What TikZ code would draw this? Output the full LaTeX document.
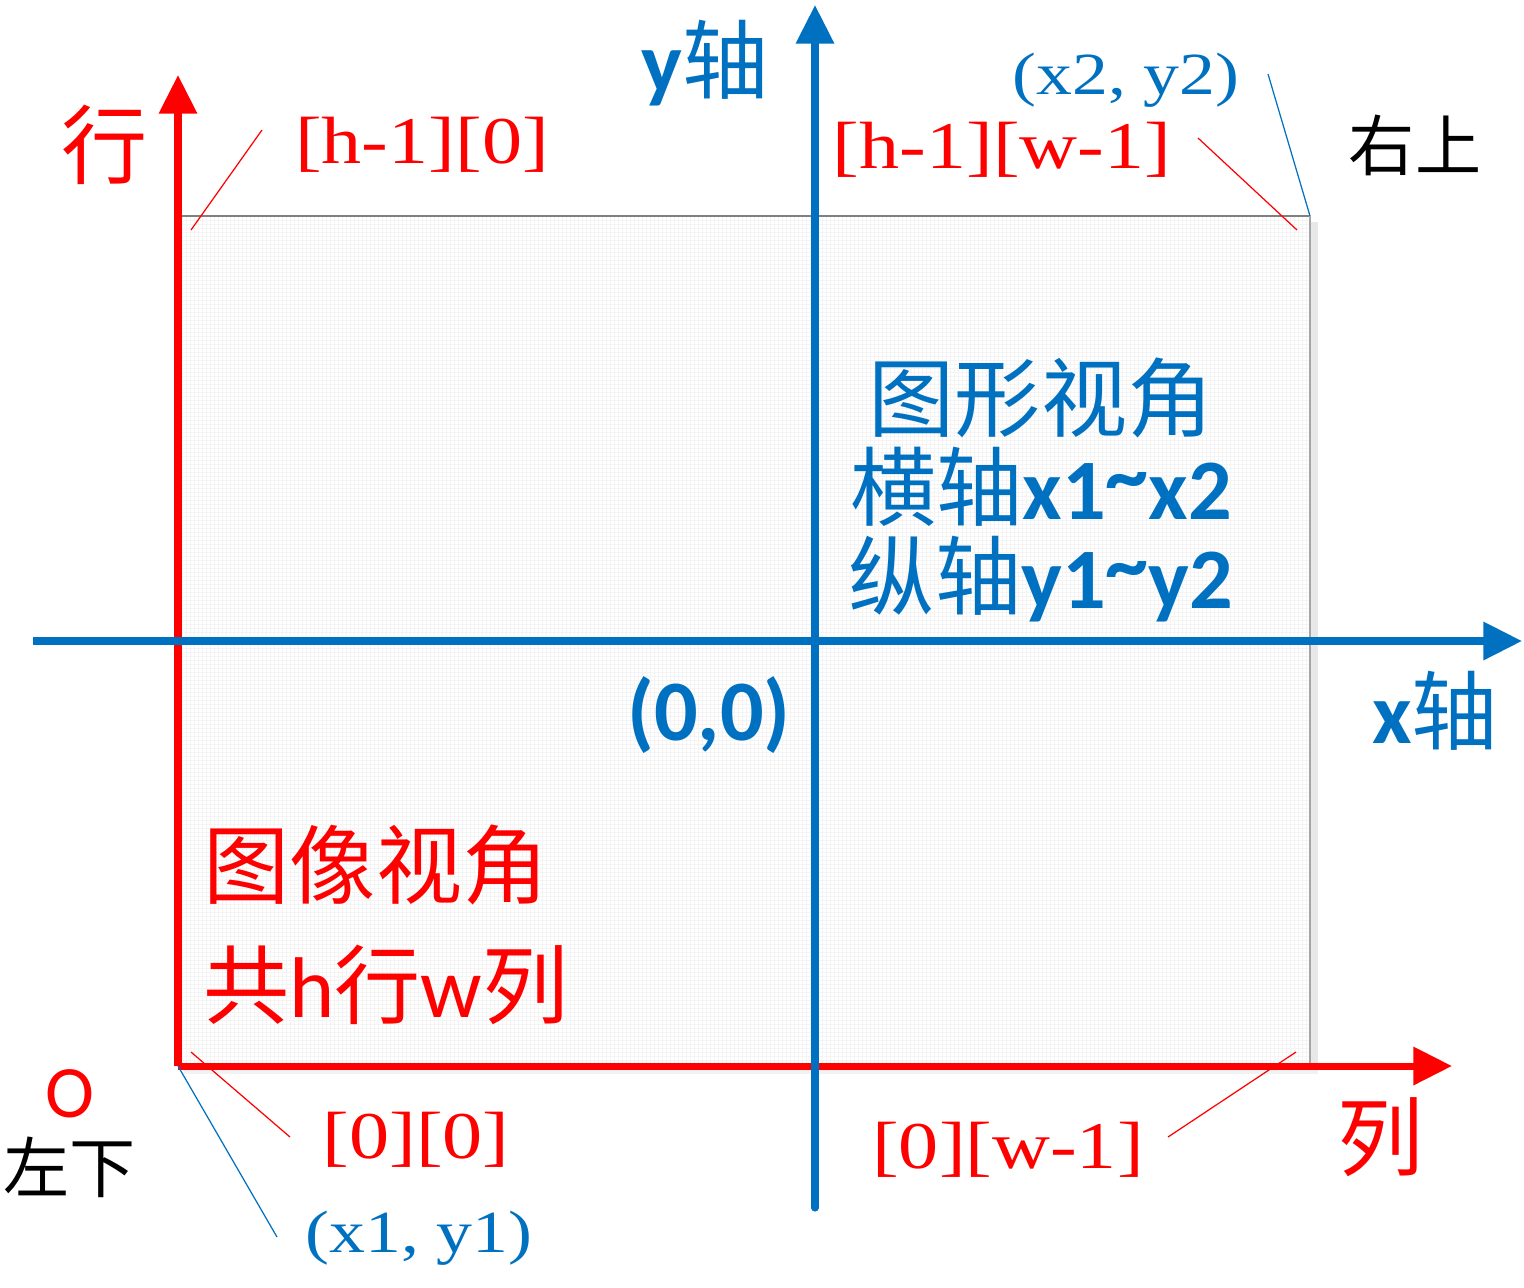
\documentclass[tikz,border=0pt]{standalone}
\usepackage{fontspec}
\usetikzlibrary{arrows.meta}
\newfontfamily\cjk{Noto Sans CJK SC}
\newfontfamily\calib{Carlito}
\newfontfamily\serifw{Liberation Serif}[FakeStretch=1.2]
\definecolor{axred}{HTML}{FF0000}
\definecolor{axblue}{HTML}{0070C0}
\newcommand{\tld}{\raisebox{0.18em}{\symbol{126}}}

\begin{document}
\begin{tikzpicture}[x=0.01cm,y=-0.01cm,>={Triangle[length=11pt,width=10.5pt]},
    redaxis/.style={axred,line width=2pt},
    blueaxis/.style={axblue,line width=2pt},
    leadred/.style={axred,line width=0.35pt},
    leadblue/.style={axblue,line width=0.35pt},
    gridc/.style={gray!9,line width=0.28pt},
    lbl/.style={inner sep=0pt,anchor=center},
    big/.style={font=\fontsize{24.5}{25.3}\selectfont},
    idx/.style={font=\fontsize{19}{22}\selectfont\serifw,axred},
    pts/.style={font=\fontsize{17}{20}\selectfont\serifw,axblue}]
                \useasboundingbox (0,0) rectangle (1524,1287);
                % image area
                \fill[gray!18](1310,222) rectangle (1318,1074);
                \fill[gray!10](184,1066) rectangle (1318,1074);
                \fill[white](178,216) rectangle (1310,1066);
                \foreach \gx in {182,186,...,1306} \draw[gridc](\gx,216)--(\gx,1066);
                \foreach \gy in {220,224,...,1062} \draw[gridc](178,\gy)--(1310,\gy);
                \draw[gray!100,line width=0.4pt](178,216)--(1310,216);
                \draw[gray!70,line width=0.4pt](1310,216)--(1310,1066);
                % corners and axis ends
                \coordinate (O) at (178,1066);
                \coordinate (rowtip) at (178,75);
                \coordinate (coltip) at (1452,1066);
                \coordinate (xstart) at (33,641);
                \coordinate (xtip) at (1522,641);
                \coordinate (ystart) at (815,1208);
                \coordinate (ytip) at (815,5);
                \coordinate (TR) at (1310,216);
                % image axes
                \draw[redaxis,->](O)--(rowtip);
                \draw[redaxis,->](O)--(coltip);
                % graphics axes
                \draw[blueaxis,->](xstart)--(xtip);
                \draw[blueaxis,line cap=round,->](ystart)--(ytip);
                % axis names
                \node[lbl,big,axred] (rowlbl) at (105,145) {\cjk 行};
                \node[lbl,big,axred] (collbl) at (1381,1137) {\cjk 列};
                \node[lbl,big,axblue] (ylbl) at (705,63) {{\calib\bfseries y}{\cjk 轴}};
                \node[lbl,big,axblue] (xlbl) at (1435,711) {{\calib\bfseries x}{\cjk 轴}};
                \node[lbl,big,axblue] (zero) at (709,715) {\calib\bfseries (0,0)};
                % corner labels
                \node[lbl,idx] (cTL) at (422,145) {[h-1][0]};
                \node[lbl,idx] (cTR) at (1002,150) {[h-1][w-1]};
                \node[lbl,idx] (cBL) at (416,1140) {[0][0]};
                \node[lbl,idx] (cBR) at (1008,1150) {[0][w-1]};
                \node[lbl,pts] (pTR) at (1126,80) {(x2, y2)};
                \node[lbl,pts] (pBL) at (419,1238) {(x1, y1)};
                \node[lbl,font=\fontsize{18.8}{22}\selectfont] (tagTR) at (1415,145) {\cjk 右上};
                \node[lbl,font=\fontsize{18.8}{22}\selectfont] (tagBL) at (70,1167) {\cjk 左下};
                \node[lbl,axred,font=\fontsize{21}{24}\selectfont\calib] (origO) at (70,1094) {O};
                % views
                \node[lbl,big,axblue,align=center] (gview) at (1041,490)
                    {{\cjk 图形视角}\\{\cjk 横轴}{\calib\bfseries x1\tld x2}\\{\cjk 纵轴}{\calib\bfseries y1\tld y2}};
                \node[lbl,big,axred] (iview) at (376,865) {\cjk 图像视角};
                \node[lbl,big,axred] (isize) at (386,985) {{\cjk 共}{\calib h}{\cjk 行}{\calib w}{\cjk 列}};
                % leader lines
                \coordinate (kTL) at (262,130);
                \coordinate (qTL) at (191,230);
                \coordinate (kTR) at (1198,138);
                \coordinate (qTR) at (1297,230);
                \coordinate (kBL) at (290,1137);
                \coordinate (qBL) at (191,1052);
                \coordinate (kBR) at (1168,1137);
                \coordinate (qBR) at (1296,1052);
                \coordinate (kP2) at (1268,74);
                \coordinate (kP1) at (277,1237);
                \draw[leadred](kTL)--(qTL);
                \draw[leadred](kTR)--(qTR);
                \draw[leadred](kBL)--(qBL);
                \draw[leadred](kBR)--(qBR);
                \draw[leadblue](kP2)--(TR);
                \draw[leadblue](kP1)--(O);
            \end{tikzpicture}
\end{document}
